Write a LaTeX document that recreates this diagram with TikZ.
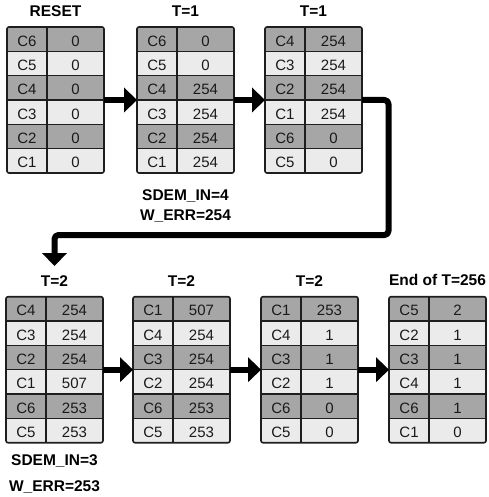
\documentclass[tikz,border=0pt]{standalone}
\usepackage{fontspec}
\setmainfont{Liberation Sans}
\usetikzlibrary{arrows.meta}

\definecolor{rowdark}{HTML}{A6A6A6}
\definecolor{rowlight}{HTML}{EBEBEB}
\definecolor{gridline}{HTML}{1E1E1E}
\definecolor{celltxt}{HTML}{1A1A1A}

% Register table: name, left x, top y, list of label/value pairs (top row first)
\newcommand\regtable[4]{%
  \begin{scope}[shift={(#2,#3)}]
    \foreach \lab/\val [count=\i from 0] in {#4}{%
      \ifodd\i\def\rowfill{rowlight}\else\def\rowfill{rowdark}\fi
      \fill[\rowfill] (0,\i*24.33) rectangle (97,\i*24.33+24.33);
      \node[celltext] (#1-l\i) at (20,\i*24.33+19.2) {\lab};
      \node[celltext] (#1-v\i) at (68.5,\i*24.33+19.2) {\val};
    }
    \foreach \k in {1,...,5}{\draw[gridrule] (0,\k*24.33) -- (97,\k*24.33);}
    \draw[gridrule] (40,0) -- (40,146);
  \end{scope}
  \node[tablebox] (#1) at (#2,#3) {};
}

\begin{document}
\begin{tikzpicture}[x=1pt,y=-1pt,
  celltext/.style={anchor=base, inner sep=0pt, text=celltxt,
    font=\fontsize{15}{17}\selectfont},
  boldtext/.style={anchor=base, inner sep=0pt,
    font=\fontsize{15.5}{18}\selectfont\bfseries},
  gridrule/.style={draw=gridline, line width=1.3pt},
  tablebox/.style={draw=gridline, line width=1.6pt, rounded corners=2pt,
    anchor=north west, minimum width=97pt, minimum height=146pt,
    inner sep=0pt, outer sep=0pt},
  flow/.style={line width=6pt, line join=round,
    -{Triangle[length=13pt 0 1, width=25pt 0 1, line width=0pt 0 0]}}]

\useasboundingbox (0,0) rectangle (488,497);

% upper row of tables
\regtable{ta}{7}{27}{C6/0,C5/0,C4/0,C3/0,C2/0,C1/0}
\regtable{tb}{137}{27}{C6/0,C5/0,C4/254,C3/254,C2/254,C1/254}
\regtable{tc}{265}{27}{C4/254,C3/254,C2/254,C1/254,C6/0,C5/0}

% lower row of tables
\regtable{ba}{6}{296.7}{C4/254,C3/254,C2/254,C1/507,C6/253,C5/253}
\regtable{bb}{133}{296.7}{C1/507,C4/254,C3/254,C2/254,C6/253,C5/253}
\regtable{bc}{261}{296.7}{C1/253,C4/1,C3/1,C2/1,C6/0,C5/0}
\regtable{bd}{389}{296.7}{C5/2,C2/1,C3/1,C4/1,C6/1,C1/0}

% titles
\node[boldtext] (ta-title) at (55.5,16.8) {RESET};
\node[boldtext] (tb-title) at (185.5,16.8) {T=1};
\node[boldtext] (tc-title) at (313.5,16.8) {T=1};
\node[boldtext] (ba-title) at (54.5,286.7) {T=2};
\node[boldtext] (bb-title) at (181.5,286.7) {T=2};
\node[boldtext] (bc-title) at (309.5,286.7) {T=2};
\node[boldtext] (bd-title) at (437.5,285) {End of T=256};

% status notes
\node[boldtext] (tb-sdem) at (185.5,200.7) {SDEM\_IN=4};
\node[boldtext] (tb-werr) at (185.5,220.7) {W\_ERR=254};
\node[boldtext] (ba-sdem) at (54.5,465) {SDEM\_IN=3};
\node[boldtext] (ba-werr) at (54.5,491.5) {W\_ERR=253};

% transitions
\draw[flow] (ta.east) -- (tb.west);
\draw[flow] (tb.east) -- (tc.west);
\coordinate (wrap) at (388.5,235);
\coordinate (wrapend) at (54.5,266);
\draw[flow, rounded corners=4pt] (tc.east) -| (wrap) -| (wrapend);
\draw[flow] (ba.east) -- (bb.west);
\draw[flow] (bb.east) -- (bc.west);
\draw[flow] (bc.east) -- (bd.west);

\end{tikzpicture}
\end{document}
